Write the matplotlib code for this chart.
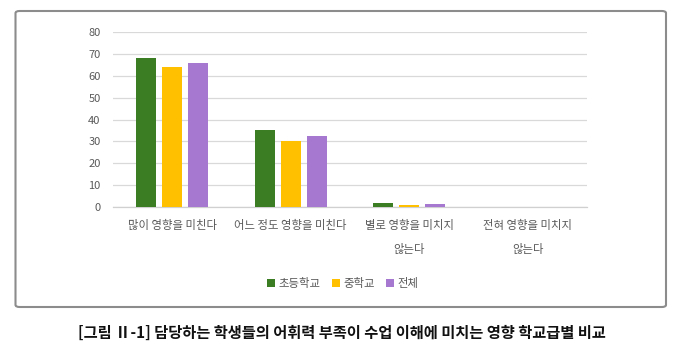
import matplotlib
matplotlib.use("Agg")
import matplotlib.pyplot as plt
import numpy as np
from matplotlib.patches import FancyBboxPatch

plt.rcParams['font.family'] = ['Noto Sans CJK KR', 'DejaVu Sans']

categories = ['많이 영향을 미친다', '어느 정도 영향을 미친다', '별로 영향을 미치지\n않는다', '전혀 영향을 미치지\n않는다']
series_names = ['초등학교', '중학교', '전체']
elementary = [68.0, 35.0, 1.8, 0.0]
middle = [64.0, 30.3, 1.0, 0.0]
total = [66.0, 32.5, 1.3, 0.0]
colors = ['#3B7D23', '#FFC000', '#A678D0']
yticks = [0, 10, 20, 30, 40, 50, 60, 70, 80]
caption = '[그림 Ⅱ-1] 담당하는 학생들의 어휘력 부족이 수업 이해에 미치는 영향 학교급별 비교'

W, H = 684, 362
fig = plt.figure(figsize=(W / 100, H / 100), dpi=100)

# frame
frame = FancyBboxPatch((15.5 / W, 1 - 307 / H), (666 - 15.5) / W, (307 - 11) / H,
                       boxstyle='round,pad=0,rounding_size=0.006',
                       transform=fig.transFigure, fill=False,
                       edgecolor='#8c8c8c', linewidth=1.5)
fig.patches.append(frame)

ax = fig.add_axes([113 / W, 1 - 207 / H, (587 - 113) / W, (207 - 32) / H])
x = np.arange(len(categories))
bw = 0.169
step = 0.219
for i, (vals, name, c) in enumerate(zip([elementary, middle, total], series_names, colors)):
    ax.bar(x + (i - 1) * step, vals, width=bw, color=c, label=name, zorder=3)

ax.set_xlim(-0.5, len(categories) - 0.5)
ax.set_ylim(0, 80)
ax.set_yticks(yticks)
ax.set_xticks(x)
ax.set_xticklabels(categories, linespacing=2.5, fontsize=8.2)
ax.grid(axis='y', color='#d9d9d9', linewidth=0.9, zorder=0)
for s in ['top', 'right', 'left']:
    ax.spines[s].set_visible(False)
ax.spines['bottom'].set_color('#d0d0d0')
ax.spines['bottom'].set_linewidth(0.9)
ax.tick_params(axis='both', length=0, labelcolor='#595959')
ax.tick_params(axis='y', pad=9, labelsize=8)
ax.tick_params(axis='x', pad=9)

leg = fig.legend(loc='center', bbox_to_anchor=(343 / W, 1 - 283 / H), ncol=3, frameon=False,
                 fontsize=8.2, handlelength=0.7, handleheight=0.7, handletextpad=0.3,
                 columnspacing=1.0)
for t in leg.get_texts():
    t.set_color('#595959')

fig.text(342 / W, 1 - 333 / H, caption, ha='center', va='center', fontsize=11,
         fontweight='bold', color='#111111')

fig.savefig('out.png', dpi=100)
